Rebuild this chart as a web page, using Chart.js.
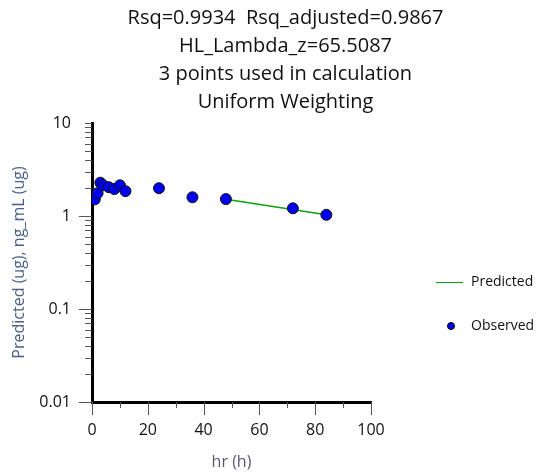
<!DOCTYPE html>
<html>
<head>
<meta charset="utf-8">
<script src="https://cdn.jsdelivr.net/npm/chart.js@4/dist/chart.umd.min.js"></script>
<style>
body{margin:0;background:#fff;}
#wrap{position:relative;width:541px;height:476px;}
.leg{position:absolute;font-family:"Open Sans",sans-serif;font-size:14px;color:#111;line-height:18px;}
</style>
</head>
<body>
<div id="wrap">
<canvas id="c" width="541" height="476"></canvas>
<div class="leg" style="left:436px;top:272px;"><span style="display:inline-block;width:27px;height:0;border-top:1px solid #12a012;vertical-align:middle;margin-right:8px;"></span>Predicted</div>
<div class="leg" style="left:447px;top:316px;"><span style="display:inline-block;width:6px;height:6px;border-radius:50%;background:#0000ee;border:0.5px solid #000;vertical-align:middle;margin-right:16px;"></span>Observed</div>
</div>
<script>
// observed concentrations
var times=[1,2,3,4,6,8,10,12,24,36,48,72,84];
var conc=[1.51,1.76,2.28,2.14,2.04,1.95,2.14,1.85,1.99,1.59,1.52,1.21,1.03];
// terminal fit line
var predTimes=[48,84];
var predConc=[1.51,1.03];
var titleLines=["Rsq=0.9934  Rsq_adjusted=0.9867","HL_Lambda_z=65.5087","3 points used in calculation","Uniform Weighting"];
var yMajor=[0.01,0.1,1,10];
var xTicks=[0,10,20,30,40,50,60,70,80,90,100];

function pts(xs,ys){var out=[];for(var i=0;i<xs.length;i++){out.push({x:xs[i],y:ys[i]});}return out;}

var tickPlugin={
  id:'ticks',
  afterLayout:function(chart){
    // title sits a bit right of the canvas centre in the original
    chart.titleBlock.left+=30;
  },
  afterDraw:function(chart){
    var c=chart.ctx,xs=chart.scales.x,ys=chart.scales.y;
    var left=chart.chartArea.left,bottom=chart.chartArea.bottom;
    c.save();
    c.strokeStyle='#555';c.lineWidth=1;
    c.beginPath();
    for(var e=-2;e<1;e++){
      for(var m=1;m<10;m++){
        var v=m*Math.pow(10,e);
        var py=Math.round(ys.getPixelForValue(v))+0.5;
        var len=(m==1)?13:7;
        c.moveTo(left-len,py);c.lineTo(left,py);
      }
    }
    var p10=Math.round(ys.getPixelForValue(10))+0.5;
    c.moveTo(left-7,p10);c.lineTo(left,p10);
    for(var i=0;i<xTicks.length;i++){
      var px=Math.round(xs.getPixelForValue(xTicks[i]))+0.5;
      var l2=(xTicks[i]%20==0)?13:6;
      c.moveTo(px,bottom);c.lineTo(px,bottom+l2);
    }
    c.stroke();
    c.restore();
  }
};

new Chart(document.getElementById('c'),{
  type:'scatter',
  data:{
    datasets:[{
      label:'Observed',
      data:pts(times,conc),
      order:0,
      pointRadius:5.5,
      pointHoverRadius:5.5,
      backgroundColor:'#0000ee',
      borderColor:'#111',
      borderWidth:1
    },{
      label:'Predicted',
      data:pts(predTimes,predConc),
      order:1,
      showLine:true,
      pointRadius:0,
      borderColor:'#12a012',
      borderWidth:1.5,
      backgroundColor:'#12a012'
    }]
  },
  options:{
    responsive:false,
    animation:false,
    devicePixelRatio:1,
    layout:{padding:0},
    plugins:{
      legend:{display:false},
      tooltip:{enabled:false},
      title:{
        display:true,
        text:titleLines,
        color:'#111',
        font:{family:'"Open Sans", sans-serif',size:20,weight:'normal',lineHeight:'28px'},
        padding:{top:4,bottom:7}
      }
    },
    scales:{
      x:{
        type:'linear',min:0,max:100,
        afterFit:function(s){s.height=74;},
        grid:{display:false,drawTicks:false},
        border:{display:true,color:'#000',width:3},
        ticks:{stepSize:10,autoSkip:false,maxRotation:0,minRotation:0,padding:19,color:'#111',
          font:{family:'"Open Sans", sans-serif',size:16},
          callback:function(v){return v%20==0?String(v):'';}},
        title:{display:true,text:'hr (h)',color:'#5a5670',
          font:{family:'"Open Sans", sans-serif',size:16},padding:{top:0,bottom:4}}
      },
      y:{
        type:'logarithmic',min:0.01,max:10,
        afterFit:function(s){s.width=92;},
        grid:{display:false,drawTicks:false},
        border:{display:true,color:'#000',width:3},
        ticks:{autoSkip:false,padding:21,color:'#111',
          font:{family:'"Open Sans", sans-serif',size:16},
          callback:function(v){return yMajor.indexOf(v)>=0?String(v):'';}},
        title:{display:true,text:'Predicted (ug), ng_mL (ug)',color:'#4a6088',
          font:{family:'"Open Sans", sans-serif',size:16},padding:{top:10,bottom:0}}
      },
      yR:{
        type:'linear',position:'right',display:true,
        afterFit:function(s){s.width=170;},
        grid:{display:false,drawTicks:false},
        border:{display:false},
        ticks:{display:false}
      }
    }
  },
  plugins:[tickPlugin]
});
</script>
</body>
</html>
